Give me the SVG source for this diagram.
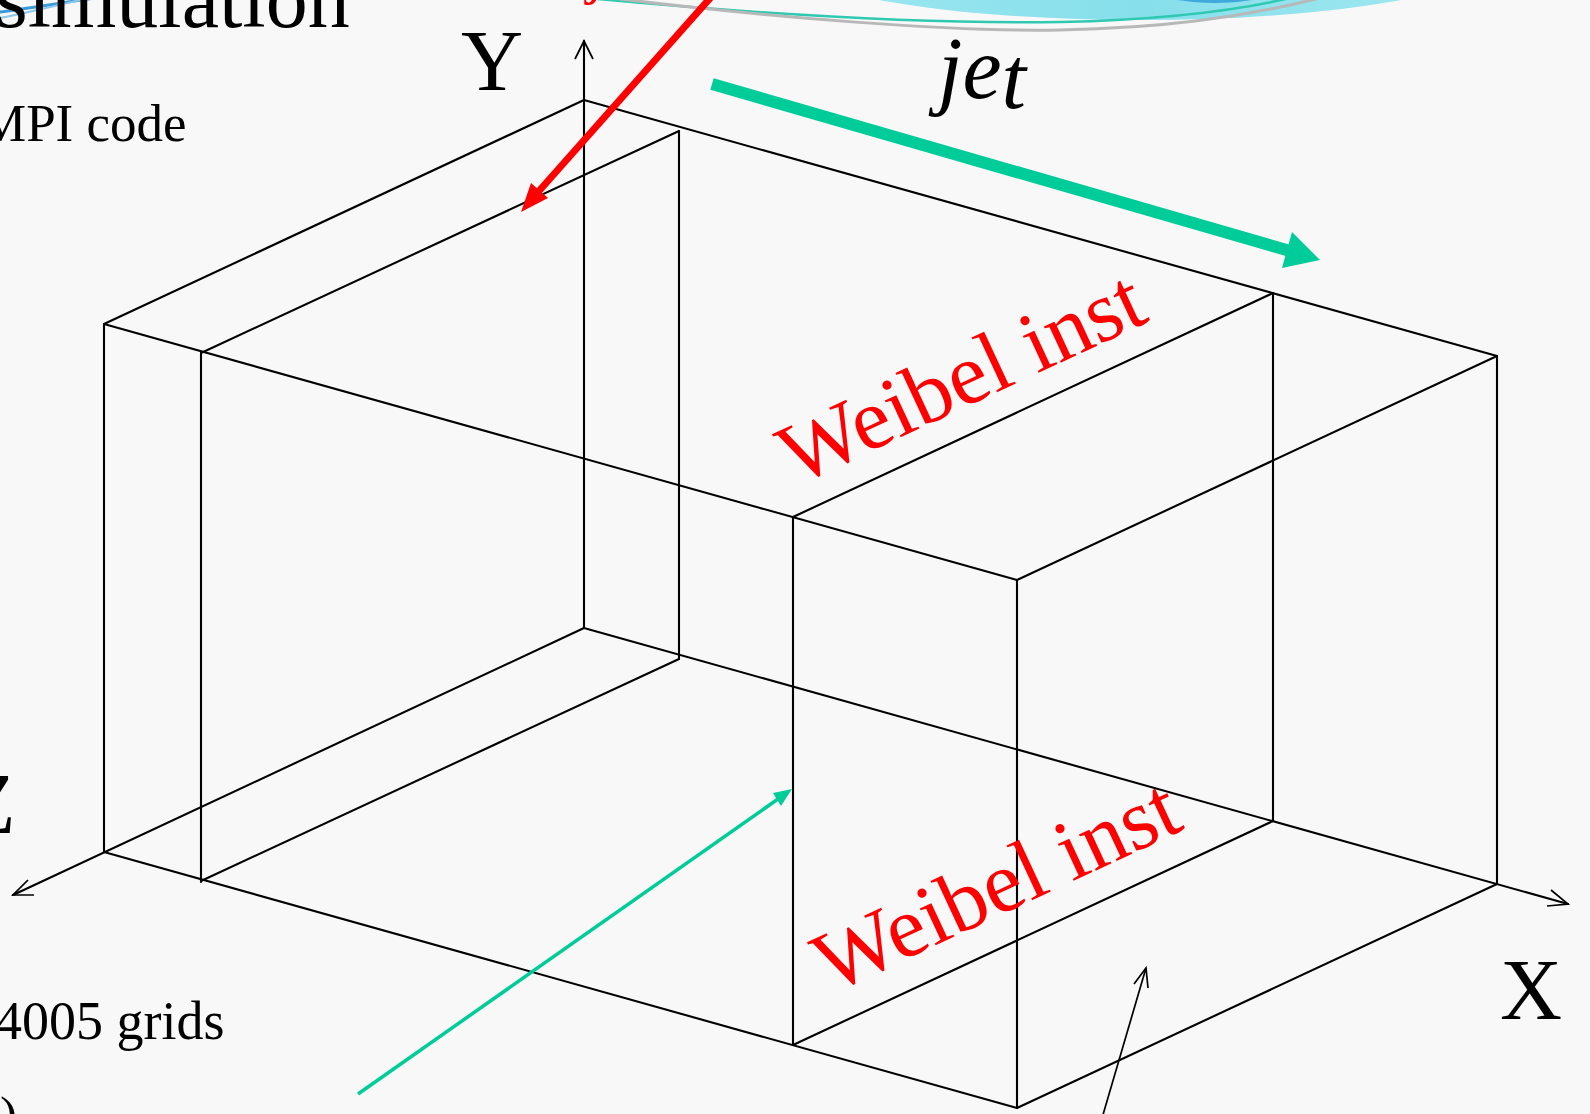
<svg xmlns="http://www.w3.org/2000/svg" width="1590" height="1114" viewBox="0 0 1590 1114">
<style>
.edge{stroke:#000;stroke-width:2.1;fill:none;stroke-linecap:round}
.axis{stroke:#000;stroke-width:1.7;fill:none}
.lbl{font-family:"Liberation Serif","Times New Roman",serif;fill:#000}
.weibel{font-family:"Liberation Serif","Times New Roman",serif;fill:#ff0000;font-size:87px}
.swoosh{fill:none;stroke-linecap:round}
</style>
<defs>
<linearGradient id="cyan" x1="0" y1="0" x2="1" y2="0">
<stop offset="0" stop-color="#9fe8f0"/>
<stop offset="0.5" stop-color="#86dfeb"/>
<stop offset="1" stop-color="#a3e9f1"/>
</linearGradient>
</defs>
<rect x="0" y="0" width="1590" height="1114" fill="#f8f8f8"/>

<g id="decoration">
<ellipse cx="1140" cy="-42" rx="355" ry="62" fill="url(#cyan)"/>
<ellipse cx="1215" cy="-6" rx="50" ry="9" fill="#3fa9dc"/>
<path class="swoosh" d="M598,-1 C760,14 930,24 1060,22 C1150,20 1230,12 1290,-2" stroke="#2ec9b0" stroke-width="2.5"/>
<path class="swoosh" d="M620,-1 C780,18 950,32 1060,30 C1160,28 1240,18 1320,-2" stroke="#b8b8b8" stroke-width="3"/>
<path class="swoosh" d="M0,12 C30,8 60,3 95,-2" stroke="#3a9ad8" stroke-width="3"/>
<path class="swoosh" d="M0,18 C30,12 55,6 80,0" stroke="#8cc8ec" stroke-width="2"/>
</g>

<g id="labels">
<text class="lbl" x="-5" y="27" font-size="84">simulation</text>
<text class="lbl" x="-21" y="141" font-size="53">MPI code</text>
<text class="lbl" x="-5" y="1039" font-size="54">4005 grids</text>
<text class="lbl" x="0" y="1133" font-size="52">)</text>
<text class="lbl" x="461" y="90" font-size="86">Y</text>
<text class="lbl" x="-37" y="833" font-size="86">Z</text>
<text class="lbl" x="1500" y="1019" font-size="86">X</text>
<text class="lbl" x="938" y="98" font-size="88" font-style="italic">je<tspan dy="10">t</tspan></text>
<text x="586" y="-8" font-family="Liberation Serif, serif" font-size="60" fill="#ff0000">j</text>
</g>

<g id="box">
<line class="edge" x1="584" y1="100" x2="104" y2="324"/>
<line class="edge" x1="584" y1="100" x2="1497" y2="356"/>
<line class="edge" x1="104" y1="324" x2="1017" y2="580"/>
<line class="edge" x1="1497" y1="356" x2="1017" y2="580"/>
<line class="edge" x1="104" y1="324" x2="104" y2="852"/>
<line class="edge" x1="1497" y1="356" x2="1497" y2="884"/>
<line class="edge" x1="1017" y1="580" x2="1017" y2="1108"/>
<line class="edge" x1="104" y1="852" x2="1017" y2="1108"/>
<line class="edge" x1="1497" y1="884" x2="1017" y2="1108"/>
</g>

<g id="slab-left">
<line class="edge" x1="679" y1="131" x2="679" y2="659"/>
<line class="edge" x1="201" y1="353" x2="201" y2="882"/>
<line class="edge" x1="679" y1="131" x2="201" y2="353"/>
<line class="edge" x1="679" y1="659" x2="201" y2="881"/>
</g>

<g id="slab-right">
<line class="edge" x1="1273" y1="293" x2="1273" y2="821"/>
<line class="edge" x1="793" y1="517" x2="793" y2="1045"/>
<line class="edge" x1="1273" y1="293" x2="793" y2="517"/>
<line class="edge" x1="1273" y1="821" x2="793" y2="1045"/>
</g>

<g id="weibel-top">
<text class="weibel" transform="translate(796,486) rotate(-25)">Weibel inst</text>
</g>
<g id="weibel-bottom">
<text class="weibel" transform="translate(831,994) rotate(-25)">Weibel inst</text>
</g>

<g id="connectors">
<line class="edge" x1="584" y1="628" x2="584" y2="41"/>
<polyline class="axis" points="575,59 584,41 593,59"/>
<line class="edge" x1="584" y1="628" x2="1568" y2="904"/>
<polyline class="axis" points="1551,890 1568,904 1547,906"/>
<line class="edge" x1="584" y1="628" x2="13" y2="895"/>
<polyline class="axis" points="28,880 13,895 34,895"/>
<line x1="712" y1="-4" x2="539" y2="191" stroke="#ff0000" stroke-width="7"/>
<polygon points="521,212 548,198 531,183" fill="#ff0000"/>
<line x1="712" y1="84" x2="1290" y2="251" stroke="#00cc99" stroke-width="12"/>
<polygon points="1320,260 1292,232 1282,268" fill="#00cc99"/>
<line x1="358" y1="1094" x2="778" y2="799" stroke="#00cc99" stroke-width="3.5"/>
<polygon points="792,789 773,793 781,806" fill="#00cc99"/>
<line class="axis" x1="1100" y1="1125" x2="1146" y2="968"/>
<polyline class="axis" points="1134,984 1146,968 1148,988"/>
</g>
</svg>
